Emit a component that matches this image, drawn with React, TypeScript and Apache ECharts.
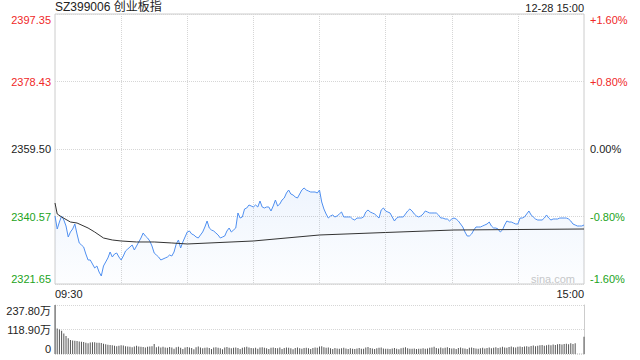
import React, { useEffect, useRef } from "react";
import * as echarts from "echarts";

const FONT = "Arial, 'Liberation Sans', 'Noto Sans CJK SC', sans-serif";

const titleText = "SZ399006 创业板指";
const dateText = "12-28 15:00";
const watermarkText = "sina.com";

// trading sessions (minute by minute): 09:30-11:30 and 13:01-15:00
const sessions: [string, string][] = [["09:30", "11:30"], ["13:01", "15:00"]];

const morningPrice = [
  2340.72, 2337.07, 2339.03, 2340.72, 2339.59, 2337.91, 2334.83, 2336.23, 2337.07, 2338.47,
  2335.67, 2333.15, 2332.59, 2332.02, 2330.06, 2328.38, 2328.38, 2327.26, 2326.14, 2326.70,
  2325.01, 2323.89, 2326.70, 2327.82, 2328.94, 2330.62, 2329.22, 2330.06, 2330.34, 2329.22,
  2328.38, 2329.50, 2330.90, 2331.46, 2332.02, 2332.59, 2331.18, 2332.30, 2333.43, 2334.55,
  2335.95, 2335.11, 2334.55, 2333.71, 2332.30, 2330.34, 2329.78, 2329.22, 2328.38, 2328.66,
  2328.94, 2329.22, 2329.78, 2329.50, 2330.62, 2332.87, 2333.99, 2331.74, 2333.43, 2334.83,
  2336.23, 2336.51, 2335.67, 2335.39, 2334.83, 2334.55, 2335.39, 2336.23, 2337.63, 2339.31,
  2337.35, 2336.79, 2336.51, 2335.95, 2335.39, 2334.55, 2334.83, 2335.11, 2336.51, 2337.35,
  2336.23, 2336.79, 2337.35, 2341.56, 2340.15, 2340.44, 2342.68, 2342.96, 2343.80, 2343.52,
  2343.24, 2343.80, 2343.24, 2344.92, 2343.24, 2342.96, 2343.24, 2343.24, 2342.12, 2343.52,
  2345.20, 2343.52, 2344.08, 2345.20, 2345.76, 2347.16, 2348.00, 2346.88, 2346.60, 2346.04,
  2345.76, 2346.88, 2348.00, 2348.57, 2348.00, 2347.72, 2347.44, 2347.44, 2347.44, 2347.16,
  2348.00,
];

const afternoonPrice = [
  2344.64, 2342.68, 2341.28, 2340.15, 2340.72, 2341.00, 2340.44, 2340.72, 2341.28, 2341.84,
  2340.44, 2340.44, 2340.44, 2340.44, 2339.87, 2339.59, 2340.15, 2340.15, 2340.15, 2340.44,
  2341.84, 2342.40, 2341.84, 2341.56, 2341.28, 2340.72, 2340.15, 2342.40, 2342.96, 2342.12,
  2341.84, 2341.56, 2340.44, 2339.31, 2340.15, 2340.44, 2340.44, 2340.44, 2341.28, 2342.12,
  2342.68, 2342.12, 2341.28, 2340.72, 2340.44, 2340.72, 2341.28, 2342.12, 2341.84, 2341.56,
  2341.56, 2341.56, 2341.56, 2341.00, 2340.15, 2340.15, 2339.87, 2339.87, 2339.31, 2339.87,
  2340.15, 2339.87, 2339.31, 2338.47, 2337.63, 2336.23, 2335.11, 2335.11, 2335.67, 2336.79,
  2337.63, 2337.63, 2337.63, 2337.91, 2338.19, 2338.47, 2339.03, 2337.91, 2337.35, 2337.35,
  2337.07, 2336.23, 2336.79, 2338.19, 2339.31, 2339.03, 2339.03, 2338.75, 2338.47, 2338.47,
  2340.15, 2340.15, 2340.44, 2341.28, 2342.12, 2341.00, 2340.44, 2339.87, 2339.59, 2339.59,
  2339.59, 2340.15, 2341.00, 2340.15, 2339.59, 2339.87, 2339.87, 2339.87, 2340.15, 2340.15,
  2340.15, 2340.15, 2339.87, 2339.31, 2338.47, 2338.19, 2337.91, 2337.91, 2337.91, 2338.19,
];

// average price line: [minute index, value]
const avgLinePoints: [number, number][] = [
  [0, 2344.36], [1, 2341.28], [3, 2340.44], [7, 2339.03], [10, 2338.75], [15, 2337.35],
  [18, 2336.23], [22, 2334.55], [26, 2333.99], [30, 2333.71], [37, 2333.43], [45, 2333.43],
  [53, 2333.15], [60, 2332.87], [90, 2333.71], [120, 2335.39], [150, 2336.09], [181, 2336.79],
  [210, 2336.93], [240, 2337.07],
];

// volume in 万
const morningVolume = [
  237.8, 124, 119, 113, 100, 87, 76, 68, 66, 64,
  63, 61, 60, 58, 55, 52, 56, 57, 57, 55,
  54, 53, 50, 47, 45, 44, 42, 40, 38, 40,
  42, 41, 38, 36, 35, 33, 37, 40, 37, 35,
  34, 32, 35, 37, 38, 48, 33, 36, 31, 35,
  32, 30, 34, 31, 25, 33, 35, 30, 24, 32,
  34, 31, 29, 23, 33, 36, 31, 28, 30, 32,
  29, 24, 31, 33, 30, 28, 23, 31, 34, 30,
  28, 30, 32, 29, 24, 30, 33, 35, 31, 29,
  28, 30, 25, 31, 33, 30, 28, 24, 30, 32,
  29, 28, 31, 24, 29, 32, 30, 28, 23, 29,
  31, 28, 26, 29, 30, 28, 24, 29, 31, 30,
  36,
];

const afternoonVolume = [
  38, 33, 30, 32, 28, 24, 29, 27, 25, 28,
  30, 27, 24, 28, 25, 24, 27, 29, 26, 25,
  31, 34, 29, 27, 24, 28, 30, 32, 27, 25,
  26, 24, 27, 29, 26, 23, 28, 30, 33, 28,
  26, 25, 27, 24, 26, 25, 28, 26, 27, 30,
  32, 35, 29, 27, 31, 28, 30, 33, 29, 27,
  28, 24, 29, 31, 28, 27, 24, 30, 32, 29,
  27, 25, 28, 30, 27, 29, 31, 28, 30, 33,
  29, 31, 35, 32, 30, 34, 36, 33, 31, 35,
  37, 34, 36, 38, 35, 39, 41, 38, 40, 42,
  44, 40, 42, 45, 43, 46, 44, 47, 49, 46,
  48, 50, 47, 52, 49, 52,
  1, 1, 1,
  84,
];

const priceTicks = [2321.65, 2340.57, 2359.5, 2378.43, 2397.35];
const priceTickLabels = ["2321.65", "2340.57", "2359.50", "2378.43", "2397.35"];
const pctTicks = [-1.6, -0.8, 0, 0.8, 1.6];
const pctTickLabels = ["-1.60%", "-0.80%", "0.00%", "+0.80%", "+1.60%"];
const volumeTicks = [0, 118.9, 237.8];
const volumeTickLabels = ["0", "118.90万", "237.80万"];

const RED = "#f02828";
const GREEN = "#22a322";
const DARK = "#222";

function toMin(t: string) {
  const [h, m] = t.split(":").map(Number);
  return h * 60 + m;
}
function fmt(m: number) {
  const h = Math.floor(m / 60);
  const mm = m % 60;
  return String(h).padStart(2, "0") + ":" + String(mm).padStart(2, "0");
}
function buildTimes() {
  const out: string[] = [];
  sessions.forEach(([a, b]) => {
    for (let m = toMin(a); m <= toMin(b); m++) out.push(fmt(m));
  });
  return out;
}
function nearest(ticks: number[], labels: string[], v: number) {
  let best = 0;
  for (let i = 1; i < ticks.length; i++) {
    if (Math.abs(ticks[i] - v) < Math.abs(ticks[best] - v)) best = i;
  }
  return { label: labels[best], index: best };
}

export default function App() {
  const ref = useRef<HTMLDivElement>(null);
  useEffect(() => {
    if (!ref.current) return;
    const chart = echarts.init(ref.current, undefined, { renderer: "svg" });
    const times = buildTimes();
    const price = [...morningPrice, ...afternoonPrice];
    const volume = [...morningVolume, ...afternoonVolume];
    const pMin = priceTicks[0];
    const pMax = priceTicks[priceTicks.length - 1];
    const pMid = priceTicks[2];
    const lastIdx = times.length - 1;

    const option: any = {
      animation: false,
      backgroundColor: "#fff",
      textStyle: { fontFamily: FONT },
      title: [
        {
          text: titleText,
          left: 55,
          top: 0,
          padding: [1, 0, 0, 0],
          textStyle: { fontSize: 12, fontWeight: "normal", color: DARK, fontFamily: FONT },
        },
        {
          text: dateText,
          right: 56,
          top: 0,
          padding: [2, 0, 0, 0],
          textStyle: { fontSize: 11, fontWeight: "normal", color: DARK, fontFamily: FONT },
        },
      ],
      graphic: [
        {
          type: "text",
          left: 531,
          top: 273,
          z: 1,
          style: { text: watermarkText, fill: "#c8c8c8", font: `11px ${FONT}` },
        },
      ],
      grid: [
        { left: 55, right: 56, top: 14, height: 270, show: true, borderColor: "#cccccc", borderWidth: 1, backgroundColor: "transparent" },
        { left: 55, right: 56, top: 305, height: 49 },
      ],
      xAxis: [
        {
          type: "category",
          gridIndex: 0,
          data: times,
          boundaryGap: false,
          axisLine: { show: false },
          axisTick: { show: false },
          axisLabel: {
            interval: (i: number) => i === 0 || i === lastIdx,
            margin: 4,
            fontSize: 11,
            color: DARK,
            fontFamily: FONT,
            alignMinLabel: "left",
            alignMaxLabel: "right",
          },
          splitLine: {
            show: true,
            interval: (i: number) => i % 30 === 0 && i > 0 && i < lastIdx,
            lineStyle: { color: "#d6d6d6", type: "dotted", width: 1 },
          },
        },
        {
          type: "category",
          gridIndex: 1,
          data: times,
          boundaryGap: false,
          axisLine: { show: false },
          axisTick: { show: false },
          axisLabel: { show: false },
          splitLine: { show: false },
        },
      ],
      yAxis: [
        {
          type: "value",
          gridIndex: 0,
          position: "left",
          min: pMin,
          max: pMax,
          interval: (pMax - pMin) / 4,
          axisLine: { show: false },
          axisTick: { show: false },
          splitLine: { show: true, lineStyle: { color: "#d6d6d6", type: "dotted", width: 1 } },
          axisLabel: {
            margin: 4,
            fontSize: 11,
            fontFamily: FONT,
            verticalAlignMinLabel: "bottom",
            verticalAlignMaxLabel: "top",
            formatter: (v: number) => nearest(priceTicks, priceTickLabels, v).label,
            color: (v: any) => {
              const n = Number(v);
              if (n > pMid + 0.01) return RED;
              if (n < pMid - 0.01) return GREEN;
              return DARK;
            },
          },
        },
        {
          type: "value",
          gridIndex: 0,
          position: "right",
          min: pctTicks[0],
          max: pctTicks[pctTicks.length - 1],
          interval: 0.8,
          axisLine: { show: false },
          axisTick: { show: false },
          splitLine: { show: false },
          axisLabel: {
            margin: 6,
            fontSize: 11,
            fontFamily: FONT,
            verticalAlignMinLabel: "bottom",
            verticalAlignMaxLabel: "top",
            formatter: (v: number) => nearest(pctTicks, pctTickLabels, v).label,
            color: (v: any) => {
              const n = Number(v);
              if (n > 0.001) return RED;
              if (n < -0.001) return GREEN;
              return DARK;
            },
          },
        },
        {
          type: "value",
          gridIndex: 1,
          position: "left",
          min: volumeTicks[0],
          max: volumeTicks[volumeTicks.length - 1],
          interval: volumeTicks[1],
          axisLine: { show: true, lineStyle: { color: "#cccccc" } },
          axisTick: { show: false },
          splitLine: { show: true, lineStyle: { color: "#d6d6d6", type: "dotted", width: 1 } },
          axisLabel: {
            margin: 4,
            fontSize: 11,
            color: DARK,
            fontFamily: FONT,
            verticalAlignMinLabel: "bottom",
            verticalAlignMaxLabel: "top",
            formatter: (v: number) => nearest(volumeTicks, volumeTickLabels, v).label,
          },
        },
        {
          type: "value",
          gridIndex: 1,
          position: "right",
          min: volumeTicks[0],
          max: volumeTicks[volumeTicks.length - 1],
          axisLine: { show: true, lineStyle: { color: "#cccccc" } },
          axisTick: { show: false },
          axisLabel: { show: false },
          splitLine: { show: false },
        },
      ],
      series: [
        {
          name: "price",
          type: "line",
          xAxisIndex: 0,
          yAxisIndex: 0,
          data: price,
          symbol: "none",
          showSymbol: false,
          z: 3,
          lineStyle: { color: "#4f8ff0", width: 1 },
          areaStyle: {
            origin: "start",
            color: new echarts.graphic.LinearGradient(0, 0, 0, 1, [
              { offset: 0, color: "rgba(79,143,240,0.13)" },
              { offset: 1, color: "rgba(79,143,240,0.02)" },
            ]),
          },
        },
        {
          name: "avg",
          type: "line",
          xAxisIndex: 0,
          yAxisIndex: 0,
          data: avgLinePoints,
          symbol: "none",
          showSymbol: false,
          z: 4,
          lineStyle: { color: "#333333", width: 1 },
        },
        {
          name: "volume",
          type: "bar",
          xAxisIndex: 1,
          yAxisIndex: 2,
          data: volume,
          barWidth: 1,
          itemStyle: { color: "#555555" },
        },
      ],
    };
    chart.setOption(option);
    return () => chart.dispose();
  }, []);
  return <div ref={ref} style={{ position: "fixed", left: 0, top: 0, width: 640, height: 360 }} />;
}
